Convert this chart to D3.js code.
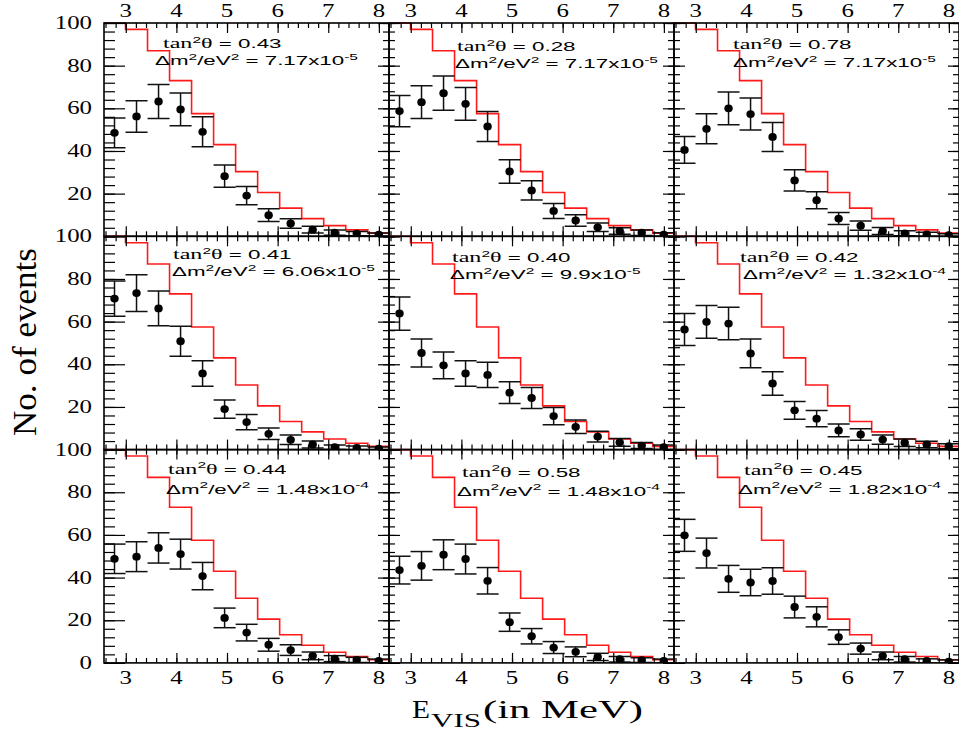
<!DOCTYPE html>
<html>
<head>
<meta charset="utf-8">
<script src="https://cdn.jsdelivr.net/npm/d3@7"></script>
<style>
  body { margin: 0; background: #fff; }
  svg { display: block; }
  .serif { font-family: "Liberation Serif", "Times New Roman", Times, serif; }
  .sans { font-family: "Liberation Sans", Arial, Helvetica, sans-serif; }
</style>
</head>
<body>
<svg id="chart"></svg>
<script>
// bin edges of the visible energy spectrum (MeV)
var binEdges = [2.56, 2.995, 3.43, 3.865, 4.30, 4.735, 5.17, 5.605, 6.04, 6.475, 6.91, 7.345, 7.78, 8.215];
// red histogram (expected, no oscillation) - same in every panel
var expected = [100, 97, 87, 73, 57.5, 43, 30.3, 20.5, 13.2, 8.3, 5, 3, 1.5];

var tanValues = ["0.43", "0.28", "0.78", "0.41", "0.40", "0.42", "0.44", "0.58", "0.45"];
var dmMantissa = ["7.17", "7.17", "7.17", "6.06", "9.9", "1.32", "1.48", "1.48", "1.82"];
var dmExponent = ["-5", "-5", "-5", "-5", "-5", "-4", "-4", "-4", "-4"];

// data points per panel (row by row)
var counts = [
  [48.5, 56.2, 63.2, 59.5, 49, 28.2, 19.1, 9.9, 6, 3.1, 1.7, 1.3, 0.8],
  [58.7, 62.9, 67.1, 62.1, 51.5, 30.4, 21.5, 11.9, 7.4, 4.2, 2.5, 1.7, 0.8],
  [40.5, 50.4, 60, 57.3, 46.6, 26.2, 16.9, 8.3, 5, 2.5, 1.4, 0.9, 0.5],
  [70.8, 73.4, 66.2, 50.8, 35.7, 19, 12.9, 7.4, 4.6, 2.4, 1.1, 0.8, 0.5],
  [63.8, 45.3, 39.5, 35.7, 35, 26.7, 24.2, 15.7, 10.7, 6.1, 3.4, 1.9, 1.1],
  [56.3, 59.9, 59.1, 45.1, 31, 18.4, 14.5, 9, 7.1, 4.7, 3.2, 2.4, 1.6],
  [48.8, 49.8, 53.9, 51, 40.7, 21.1, 14.2, 8.5, 6, 3.3, 2, 1.4, 0.9],
  [43.5, 45.5, 50.7, 48.7, 38.5, 19.1, 12.5, 7.2, 5.2, 2.8, 1.7, 1.3, 0.9],
  [59.8, 51.5, 39.4, 37.7, 38.4, 26.2, 21.6, 12.1, 6.7, 3.3, 1.7, 0.9, 0.6]
];
var errors = [
  [7, 7.4, 8, 7.7, 7, 5.2, 4.3, 3, 2.2, 1.6, 1.2, 1, 0.8],
  [7.3, 7.7, 8, 7.7, 7, 5.5, 4.5, 3.5, 2.7, 2, 1.5, 1.3, 0.9],
  [6.3, 7, 7.7, 7.5, 6.8, 5, 4, 2.8, 2.2, 1.6, 1.2, 1, 0.7],
  [8.3, 8.6, 8.1, 7, 6, 4.3, 3.6, 2.7, 2.2, 1.6, 1.1, 0.9, 0.7],
  [7.8, 6.6, 6.3, 6, 5.9, 5.1, 4.9, 4, 3.2, 2.5, 1.8, 1.4, 1],
  [7.5, 7.7, 7.6, 6.7, 5.5, 4.2, 3.8, 3, 2.7, 2.2, 1.8, 1.5, 1.2],
  [6.9, 7, 7.1, 7, 6.4, 4.6, 3.9, 3, 2.5, 1.8, 1.4, 1.2, 0.9],
  [6.5, 6.7, 7, 7, 6.2, 4.3, 3.6, 2.8, 2.3, 1.7, 1.3, 1.1, 0.9],
  [7.5, 7, 6.3, 6.2, 6.2, 5.1, 4.7, 3.4, 2.6, 1.8, 1.3, 1, 0.8]
];

var xTicks = [3, 4, 5, 6, 7, 8];
var yTicks = [0, 20, 40, 60, 80, 100];

// layout
var W = 959, H = 732;
var panelW = 285, panelH = 213.3;
var left0 = 104, top0 = 23;
var xDomain = [2.57, 8.2];
// label offsets inside each panel: [tanX, tanY, dmX, dmY]
var labelPos = [
  [59, 25, 51, 42], [68, 28, 66, 45], [59, 26, 59, 44],
  [69, 23, 68, 40], [63, 26, 61, 43], [66, 26, 69, 43],
  [64, 24, 62, 44], [73, 27, 68, 46], [70, 25, 64, 44]
];
var SX = 1.38; // tick digits are stretched horizontally in the figure

var svg = d3.select("#chart").attr("width", W).attr("height", H);
var defs = svg.append("defs");

var x = d3.scaleLinear().domain(xDomain).range([0, panelW]);
var y = d3.scaleLinear().domain([0, 100]).range([panelH, 0]);

var minorX = d3.range(2.6, 8.21, 0.2).map(function(d){ return +d.toFixed(1); });
var minorY = d3.range(0, 101, 4);

var stepLine = d3.line()
  .x(function(d){ return x(d[0]); })
  .y(function(d){ return y(d[1]); })
  .curve(d3.curveStepAfter);

function drawPanel(k) {
  var row = Math.floor(k / 3), col = k % 3;
  var px = left0 + col * panelW, py = top0 + row * panelH;
  var g = svg.append("g").attr("transform", "translate(" + px + "," + py + ")");

  defs.append("clipPath").attr("id", "clip" + k)
    .append("rect").attr("x", 0).attr("y", -1).attr("width", panelW).attr("height", panelH + 1);

  var inner = g.append("g").attr("clip-path", "url(#clip" + k + ")");

  // expected histogram
  var pts = expected.map(function(v, i){ return [binEdges[i], v]; });
  pts.push([binEdges[binEdges.length - 1], expected[expected.length - 1]]);
  inner.append("path")
    .attr("d", stepLine(pts))
    .attr("fill", "none")
    .attr("stroke", "#ff1a1a")
    .attr("stroke-width", 1.6);

  // error bars
  var bins = counts[k].map(function(c, i){
    return { x0: binEdges[i], x1: binEdges[i + 1], xc: (binEdges[i] + binEdges[i + 1]) / 2, v: c, e: errors[k][i] };
  });
  var eb = inner.selectAll("g.eb").data(bins).enter().append("g").attr("class", "eb")
    .attr("stroke", "#111").attr("stroke-width", 1.5);
  eb.append("line")
    .attr("x1", function(d){ return x(d.xc); }).attr("x2", function(d){ return x(d.xc); })
    .attr("y1", function(d){ return y(d.v + d.e); }).attr("y2", function(d){ return y(d.v - d.e); });
  eb.append("line")
    .attr("x1", function(d){ return x(d.x0); }).attr("x2", function(d){ return x(d.x1); })
    .attr("y1", function(d){ return y(d.v + d.e); }).attr("y2", function(d){ return y(d.v + d.e); });
  eb.append("line")
    .attr("x1", function(d){ return x(d.x0); }).attr("x2", function(d){ return x(d.x1); })
    .attr("y1", function(d){ return y(d.v - d.e); }).attr("y2", function(d){ return y(d.v - d.e); });
  inner.selectAll("ellipse").data(bins).enter().append("ellipse")
    .attr("cx", function(d){ return x(d.xc); })
    .attr("cy", function(d){ return y(d.v); })
    .attr("rx", 4.2).attr("ry", 3.9)
    .attr("fill", "#000");

  // tick marks on the four sides
  var leftMaj = col == 0 ? 21 : 11, leftMin = col == 0 ? 11 : 6;
  function ticks(axis, vals, size, tr) {
    var a = g.append("g").attr("transform", tr)
      .call(axis.tickValues(vals).tickSize(size).tickFormat(""));
    a.select(".domain").remove();
    a.selectAll("line").attr("stroke", "#000").attr("stroke-width", 1.2);
  }
  ticks(d3.axisRight(y), yTicks, leftMaj, "translate(0,0)");
  ticks(d3.axisRight(y), minorY, leftMin, "translate(0,0)");
  ticks(d3.axisLeft(y), yTicks, 11, "translate(" + panelW + ",0)");
  ticks(d3.axisLeft(y), minorY, 6, "translate(" + panelW + ",0)");
  ticks(d3.axisBottom(x), xTicks, 10, "translate(0,0)");
  ticks(d3.axisBottom(x), minorX, 5, "translate(0,0)");
  ticks(d3.axisTop(x), xTicks, 10, "translate(0," + panelH + ")");
  ticks(d3.axisTop(x), minorX, 5, "translate(0," + panelH + ")");

  g.append("rect").attr("width", panelW).attr("height", panelH)
    .attr("fill", "none").attr("stroke", "#000").attr("stroke-width", 1.6);

  // tick labels
  function lbl(tx, ty, s, anchor) {
    g.append("g").attr("transform", "translate(" + tx + "," + ty + ") scale(" + SX + ",1)")
      .append("text").attr("class", "serif").attr("text-anchor", anchor)
      .attr("font-size", 18).attr("fill", "#000").text(s);
  }
  if (row == 0) xTicks.forEach(function(t){ lbl(x(t), -6, t, "middle"); });
  if (row == 2) xTicks.forEach(function(t){ lbl(x(t), panelH + 21, t, "middle"); });
  if (col == 0) yTicks.forEach(function(t){
    if (t == 0 && row != 2) return;
    lbl(-12, y(t) + 6, t, "end");
  });

  // parameter labels
  var lp = labelPos[k];
  var t1 = g.append("g").attr("transform", "translate(" + lp[0] + "," + lp[1] + ") scale(1.72,1)")
    .append("text").attr("class", "sans").attr("font-size", 13).attr("fill", "#000");
  t1.append("tspan").attr("class", "serif").attr("font-size", 14).text("tan");
  t1.append("tspan").attr("font-size", 9).attr("dy", -5.5).text("2");
  t1.append("tspan").attr("class", "serif").attr("font-size", 14).attr("dy", 5.5).text("θ");
  t1.append("tspan").text(" = " + tanValues[k]);

  var t2 = g.append("g").attr("transform", "translate(" + lp[2] + "," + lp[3] + ") scale(1.72,1)")
    .append("text").attr("class", "sans").attr("font-size", 13).attr("fill", "#000");
  t2.append("tspan").text("Δm");
  t2.append("tspan").attr("font-size", 9).attr("dy", -5.5).text("2");
  t2.append("tspan").attr("dy", 5.5).text("/eV");
  t2.append("tspan").attr("font-size", 9).attr("dy", -5.5).text("2");
  t2.append("tspan").attr("dy", 5.5).text(" = " + dmMantissa[k] + "x10");
  t2.append("tspan").attr("font-size", 9).attr("dy", -5.5).text(dmExponent[k]);
}

for (var k = 0; k < 9; k++) drawPanel(k);

// axis titles
svg.append("text")
  .attr("class", "serif")
  .attr("transform", "translate(36,342) rotate(-90)")
  .attr("text-anchor", "middle")
  .attr("font-size", 34)
  .attr("textLength", 188).attr("lengthAdjust", "spacingAndGlyphs")
  .text("No. of events");

var xt = svg.append("g").attr("class", "serif").attr("fill", "#000");
xt.append("text").attr("x", 412).attr("y", 718).attr("font-size", 26)
  .attr("textLength", 18).attr("lengthAdjust", "spacingAndGlyphs").text("E");
xt.append("text").attr("x", 431).attr("y", 727).attr("font-size", 19)
  .attr("textLength", 50).attr("lengthAdjust", "spacingAndGlyphs").text("VIS");
xt.append("text").attr("x", 483).attr("y", 718).attr("font-size", 26)
  .attr("textLength", 160).attr("lengthAdjust", "spacingAndGlyphs").text("(in MeV)");
</script>
</body>
</html>
